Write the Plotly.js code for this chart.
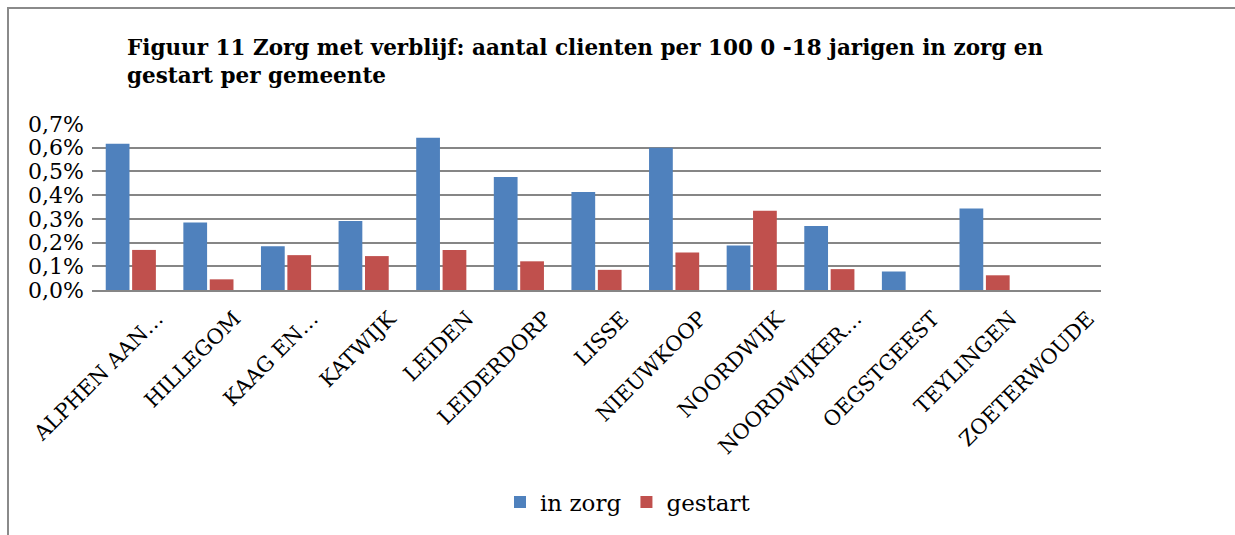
<!DOCTYPE html>
<html>
<head>
<meta charset="utf-8">
<script src="https://cdn.plot.ly/plotly-3.0.1.min.js"></script>
<style>
  body { margin: 0; background: #fff; }
  #chart { width: 1235px; height: 535px; }
  #frame {
    position: absolute; left: 7px; top: 7px; width: 1240px; height: 540px;
    border-left: 2px solid #8a8a8a; border-top: 2px solid #8a8a8a;
    pointer-events: none;
  }
  html, body { overflow: hidden; }
</style>
</head>
<body>
<div id="chart"></div>
<div id="frame"></div>
<script>
const gemeenten = [
  "ALPHEN AAN…", "HILLEGOM", "KAAG EN…", "KATWIJK", "LEIDEN", "LEIDERDORP",
  "LISSE", "NIEUWKOOP", "NOORDWIJK", "NOORDWIJKER…", "OEGSTGEEST",
  "TEYLINGEN", "ZOETERWOUDE"
];

// percent values (0.617 = 0,617%)
const inZorg = [0.617, 0.285, 0.185, 0.291, 0.642, 0.476, 0.413, 0.600, 0.188, 0.270, 0.078, 0.344, 0];
const gestart = [0.169, 0.045, 0.147, 0.143, 0.169, 0.121, 0.085, 0.158, 0.334, 0.088, 0, 0.062, 0];

const yTicks = [0, 0.1, 0.2, 0.3, 0.4, 0.5, 0.6, 0.7];
const yTickText = ["0,0%", "0,1%", "0,2%", "0,3%", "0,4%", "0,5%", "0,6%", "0,7%"];

const serif = "DejaVu Serif, Liberation Serif, serif";

const traces = [
  {
    type: "bar", name: "in zorg", x: gemeenten, y: inZorg,
    marker: { color: "#4F81BD", line: { width: 0 } }
  },
  {
    type: "bar", name: "gestart", x: gemeenten, y: gestart,
    marker: { color: "#C0504D", line: { width: 0 } }
  }
];

const layout = {
  width: 1235, height: 535,
  margin: { l: 92, r: 134, t: 124, b: 245 },
  paper_bgcolor: "rgba(0,0,0,0)",
  plot_bgcolor: "#fff",
  font: { family: serif, color: "#000" },
  title: {
    text: "<b>Figuur 11 Zorg met verblijf: aantal clienten per 100 0 -18 jarigen in zorg en<br>gestart per gemeente</b>",
    font: { family: serif, size: 21.5, color: "#000" },
    xref: "container", x: 127 / 1235, xanchor: "left",
    yref: "container", y: 1 - 55 / 535, yanchor: "top"
  },
  barmode: "group",
  bargap: 0.32,
  bargroupgap: 0.1,
  xaxis: {
    type: "category",
    tickangle: -45,
    tickfont: { family: serif, size: 21 },
    ticklabelshift: 26,
    ticklabelstandoff: 6,
    showline: true, linecolor: "#868686", linewidth: 2,
    ticks: "", showgrid: false
  },
  yaxis: {
    range: [0, 0.7],
    tickvals: yTicks, ticktext: yTickText,
    tickfont: { family: serif, size: 22 },
    ticklabelstandoff: 7,
    showgrid: true, gridcolor: "#868686", gridwidth: 2,
    zeroline: false, showline: false, ticks: "", ticklen: 0
  },
  showlegend: true,
  legend: {
    orientation: "h",
    xref: "container", x: 628 / 1235, xanchor: "center",
    yref: "container", y: 1 - 502 / 535, yanchor: "middle",
    font: { family: serif, size: 23 },
    itemwidth: 30, tracegroupgap: 0
  }
};

Plotly.newPlot("chart", traces, layout, { displayModeBar: false, staticPlot: true });
</script>
</body>
</html>
